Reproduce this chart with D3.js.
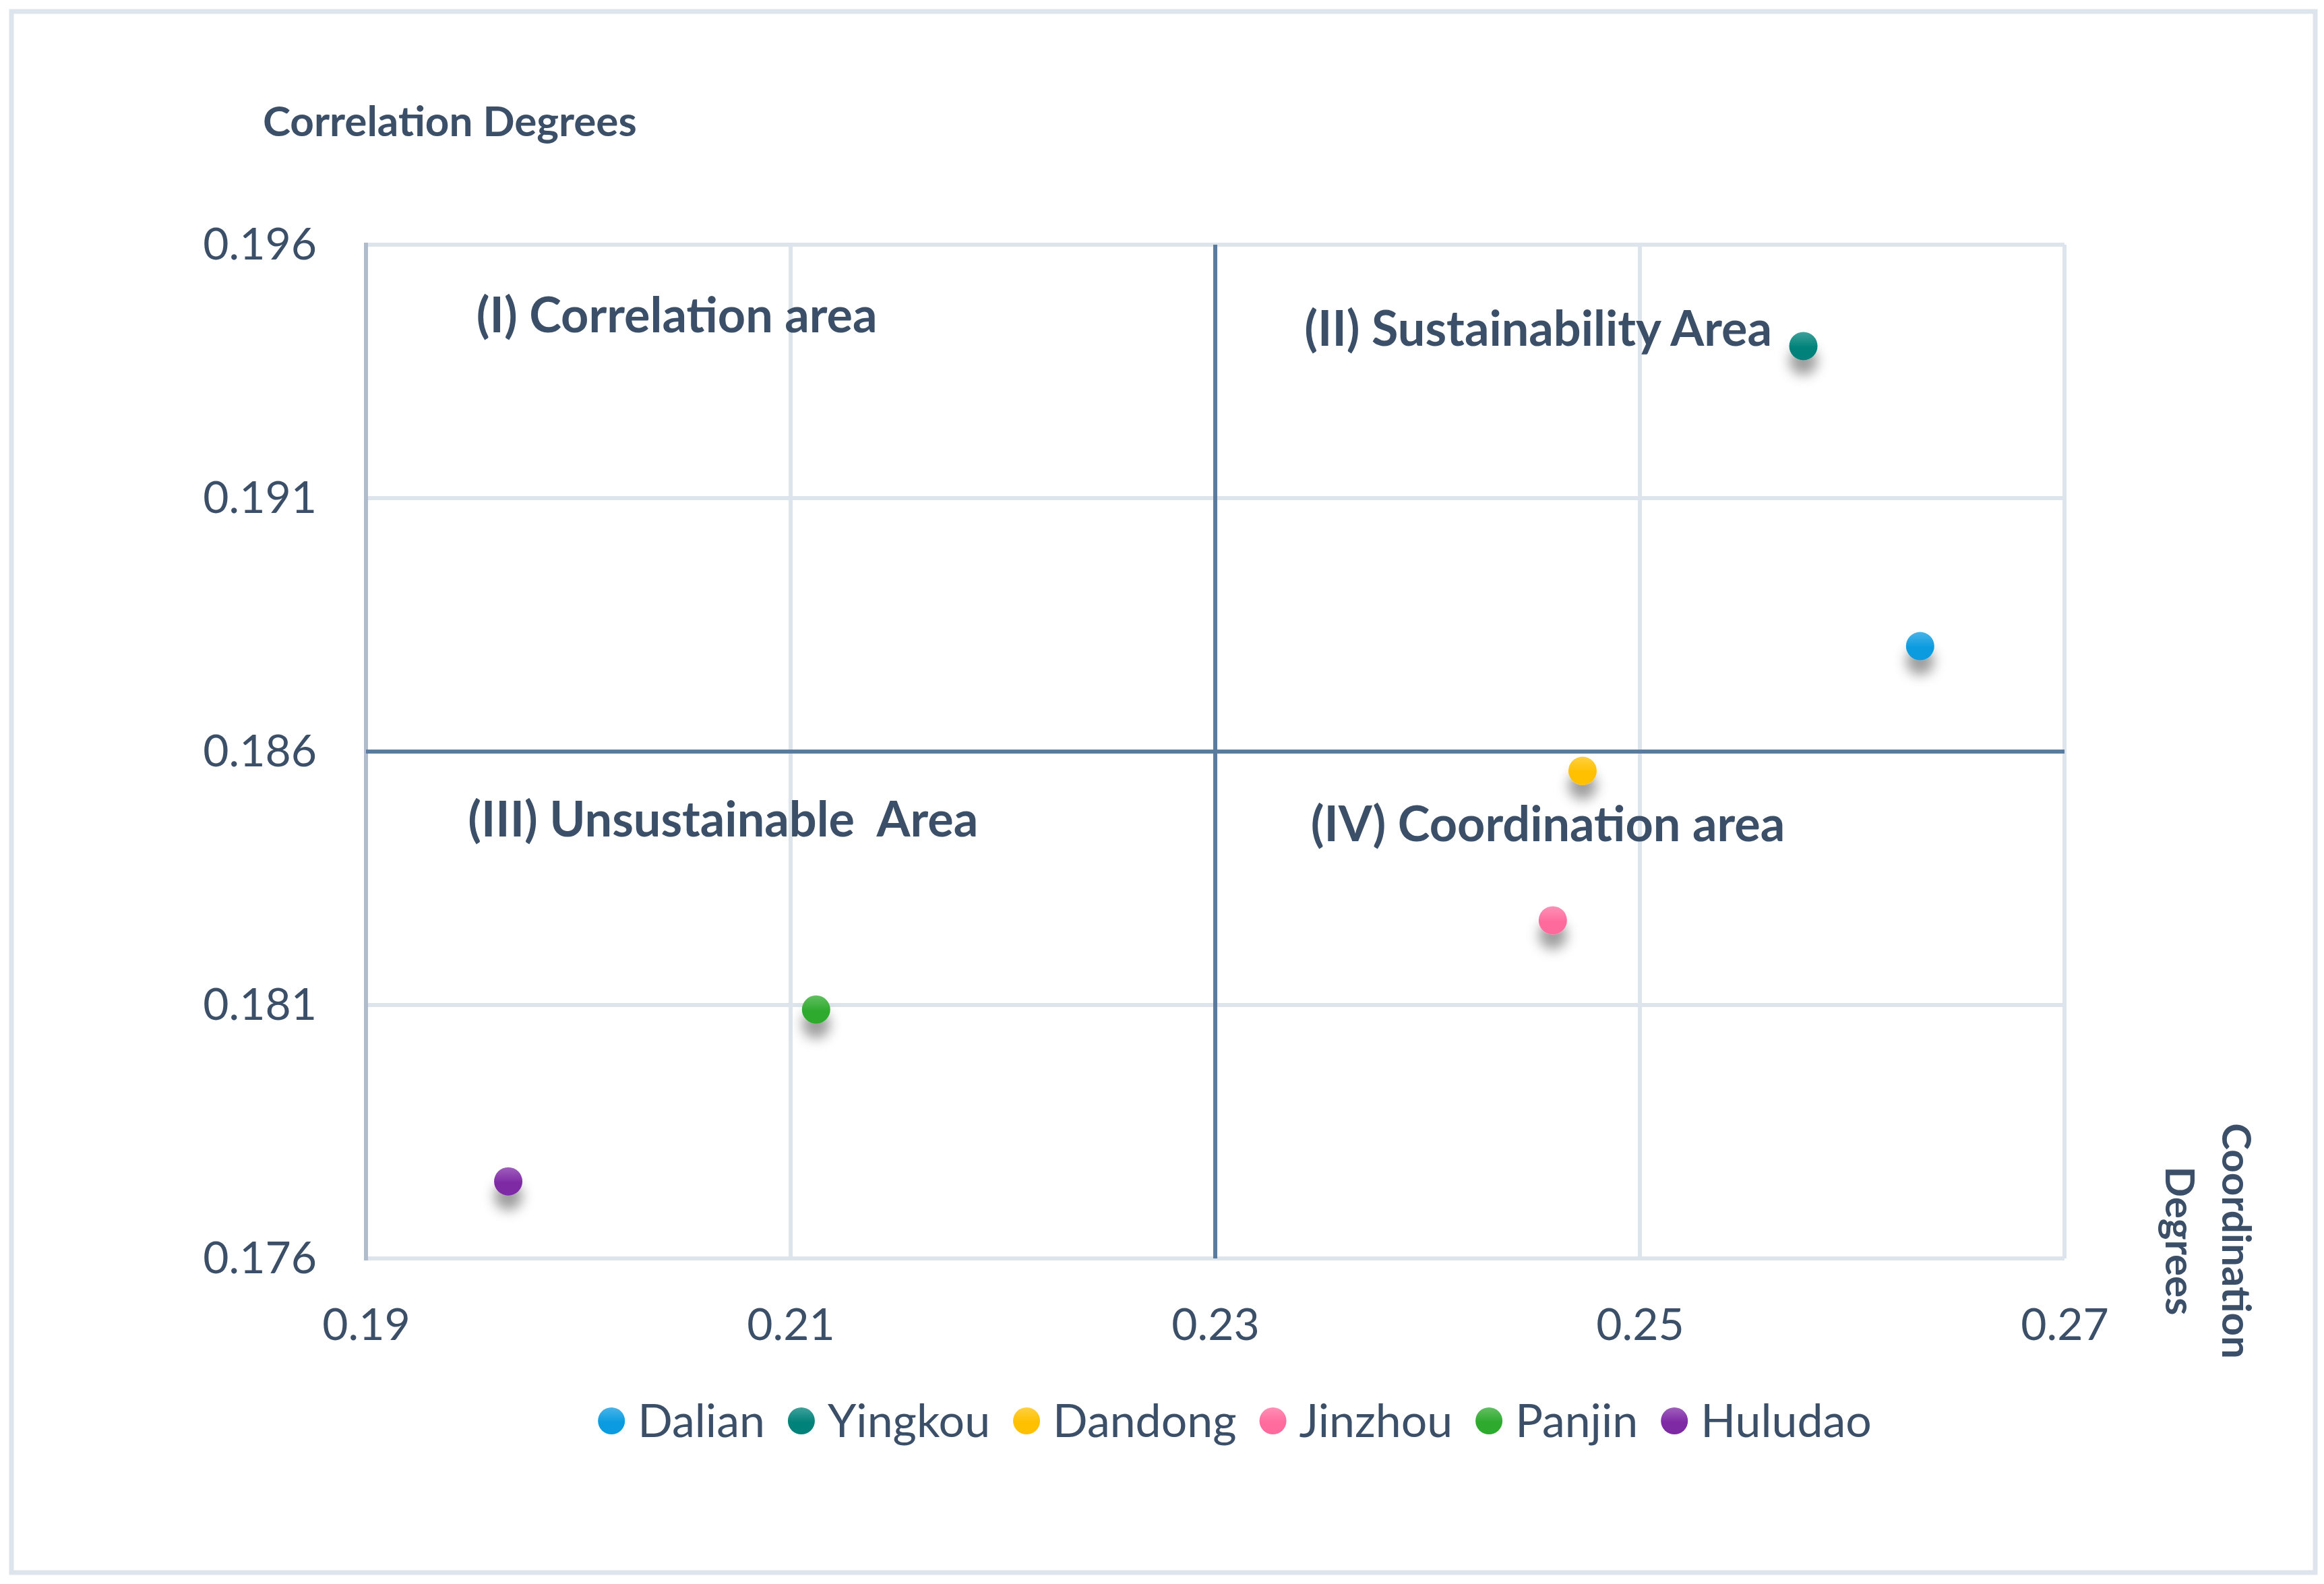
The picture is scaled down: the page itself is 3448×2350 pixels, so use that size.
<!DOCTYPE html>
<html>
<head>
<meta charset="utf-8">
<script src="https://cdn.jsdelivr.net/npm/d3@7"></script>
<style>
  body { margin: 0; background: #fff; }
  text { font-family: Lato, sans-serif; fill: #3b5068; }
</style>
</head>
<body>
<script>
// city scores
var cities = ["Dalian", "Yingkou", "Dandong", "Jinzhou", "Panjin", "Huludao"];
var coordination = [0.2632, 0.2577, 0.2473, 0.2459, 0.2112, 0.1967];
var correlation = [0.18808, 0.1940, 0.18562, 0.18267, 0.18091, 0.17752];
var colors = ["#0b9be0", "#00827a", "#ffc000", "#ff6b9d", "#2eaa2e", "#7f2aa5"];

var xTicks = [0.19, 0.21, 0.23, 0.25, 0.27];
var yTicks = [0.176, 0.181, 0.186, 0.191, 0.196];
var xSplit = 0.23, ySplit = 0.186;

var quadLabels = ["(I) Correlation area", "(II) Sustainability Area",
                  "(III) Unsustainable  Area", "(IV) Coordination area"];
var quadAnchorX = [0.1952, 0.2342, 0.1948, 0.2345];
var quadAnchorY = [0.1946, 0.19434, 0.18466, 0.18456];

var W = 3448, H = 2350;
var margin = {top: 363, left: 543},
    width = 2520, height = 1504;

var svg = d3.select("body").append("svg")
    .attr("width", W)
    .attr("height", H);

var defs = svg.append("defs");
var shadow = defs.append("filter").attr("id", "shadow")
    .attr("x", "-100%").attr("y", "-100%").attr("width", "300%").attr("height", "300%");
shadow.append("feDropShadow")
    .attr("dx", 0).attr("dy", 22).attr("stdDeviation", 9)
    .attr("flood-color", "#000").attr("flood-opacity", 0.38);

colors.forEach(function(c, i) {
  var g = defs.append("linearGradient").attr("id", "grad" + i)
      .attr("x1", 0).attr("y1", 0).attr("x2", 0).attr("y2", 1);
  g.append("stop").attr("offset", "0%").attr("stop-color", d3.interpolateRgb(c, "#fff")(0.25));
  g.append("stop").attr("offset", "55%").attr("stop-color", c);
  g.append("stop").attr("offset", "100%").attr("stop-color", c);
});

// outer frame
svg.append("rect")
    .attr("x", 17).attr("y", 17)
    .attr("width", W - 30).attr("height", H - 34)
    .attr("fill", "none")
    .attr("stroke", "#dde4ec")
    .attr("stroke-width", 7);

var xScale = d3.scaleLinear().domain([0.19, 0.27]).range([0, width]);
var yScale = d3.scaleLinear().domain([0.176, 0.196]).range([height, 0]);

var g = svg.append("g")
    .attr("transform", "translate(" + margin.left + "," + margin.top + ")");

// grid
g.append("g").selectAll("line")
    .data(xTicks.filter(function(d) { return d !== xSplit; }))
    .enter().append("line")
    .attr("x1", function(d) { return xScale(d); })
    .attr("x2", function(d) { return xScale(d); })
    .attr("y1", 0).attr("y2", height)
    .attr("stroke", function(d, i) { return i === 0 ? "#aebccb" : "#dde4ec"; })
    .attr("stroke-width", 6);

g.append("g").selectAll("line")
    .data(yTicks.filter(function(d) { return d !== ySplit; }))
    .enter().append("line")
    .attr("x1", 0).attr("x2", width)
    .attr("y1", function(d) { return yScale(d); })
    .attr("y2", function(d) { return yScale(d); })
    .attr("stroke", "#dde4ec")
    .attr("stroke-width", 6);

// re-draw left axis on top of horizontal grid
g.append("line")
    .attr("x1", xScale(0.19)).attr("x2", xScale(0.19))
    .attr("y1", -3).attr("y2", height + 3)
    .attr("stroke", "#aebccb").attr("stroke-width", 6);

// quadrant dividers
g.append("line")
    .attr("x1", xScale(xSplit)).attr("x2", xScale(xSplit))
    .attr("y1", 0).attr("y2", height)
    .attr("stroke", "#587b9e").attr("stroke-width", 6);
g.append("line")
    .attr("x1", 0).attr("x2", width)
    .attr("y1", yScale(ySplit)).attr("y2", yScale(ySplit))
    .attr("stroke", "#587b9e").attr("stroke-width", 6);

// tick labels
var xAxis = d3.axisBottom(xScale).tickValues(xTicks).tickSize(0).tickPadding(0)
    .tickFormat(d3.format(".2f"));
g.append("g")
    .attr("transform", "translate(0," + (height + 98) + ")")
    .call(xAxis)
    .call(function(s) { s.select(".domain").remove(); })
    .selectAll("text")
    .attr("dy", "0.35em")
    .attr("y", 0)
    .style("font-size", "66px")
    .style("font-weight", 400)
    .attr("fill", "#3b5068");

var yAxis = d3.axisLeft(yScale).tickValues(yTicks).tickSize(0).tickPadding(0)
    .tickFormat(d3.format(".3f"));
g.append("g")
    .attr("transform", "translate(-73,0)")
    .call(yAxis)
    .call(function(s) { s.select(".domain").remove(); })
    .selectAll("text")
    .style("font-size", "66px")
    .style("font-weight", 400)
    .attr("fill", "#3b5068");

// quadrant labels
g.append("g").selectAll("text")
    .data(quadLabels)
    .enter().append("text")
    .attr("x", function(d, i) { return xScale(quadAnchorX[i]); })
    .attr("y", function(d, i) { return yScale(quadAnchorY[i]); })
    .attr("dy", "0.35em")
    .style("font-size", "72px")
    .style("font-weight", 700)
    .style("white-space", "pre")
    .text(function(d) { return d; });

// points
var pts = cities.map(function(c, i) {
  return {city: c, x: coordination[i], y: correlation[i], i: i};
});
g.append("g").selectAll("circle")
    .data(pts)
    .enter().append("circle")
    .attr("cx", function(d) { return xScale(d.x); })
    .attr("cy", function(d) { return yScale(d.y); })
    .attr("r", 21)
    .attr("fill", function(d) { return "url(#grad" + d.i + ")"; })
    .attr("filter", "url(#shadow)");

// axis titles
svg.append("text")
    .attr("x", 390).attr("y", 180)
    .attr("dy", "0.35em")
    .style("font-size", "62px")
    .style("font-weight", 700)
    .text("Correlation Degrees");

var rt = svg.append("text")
    .attr("transform", "translate(3297,1841) rotate(90)")
    .attr("text-anchor", "middle")
    .style("font-size", "60px")
    .style("font-weight", 700);
rt.append("tspan").attr("x", 0).attr("y", 0).text("Coordination");
rt.append("tspan").attr("x", 0).attr("y", 84).text("Degrees");

// legend
var legend = svg.append("g").attr("transform", "translate(0,2108)");
var items = legend.selectAll("g")
    .data(cities)
    .enter().append("g");
items.append("circle")
    .attr("r", 20)
    .attr("fill", function(d, i) { return "url(#grad" + i + ")"; });
items.append("text")
    .attr("x", 39)
    .attr("dy", "0.35em")
    .style("font-size", "68px")
    .text(function(d) { return d; });

var pos = 0, offsets = [];
items.each(function() {
  var w = d3.select(this).select("text").node().getComputedTextLength();
  offsets.push(pos);
  pos += 20 + 39 + w + 34;
});
var total = pos - 34;
var start = 1832 - total / 2 + 20;
items.attr("transform", function(d, i) { return "translate(" + (start + offsets[i]) + ",0)"; });
</script>
</body>
</html>
